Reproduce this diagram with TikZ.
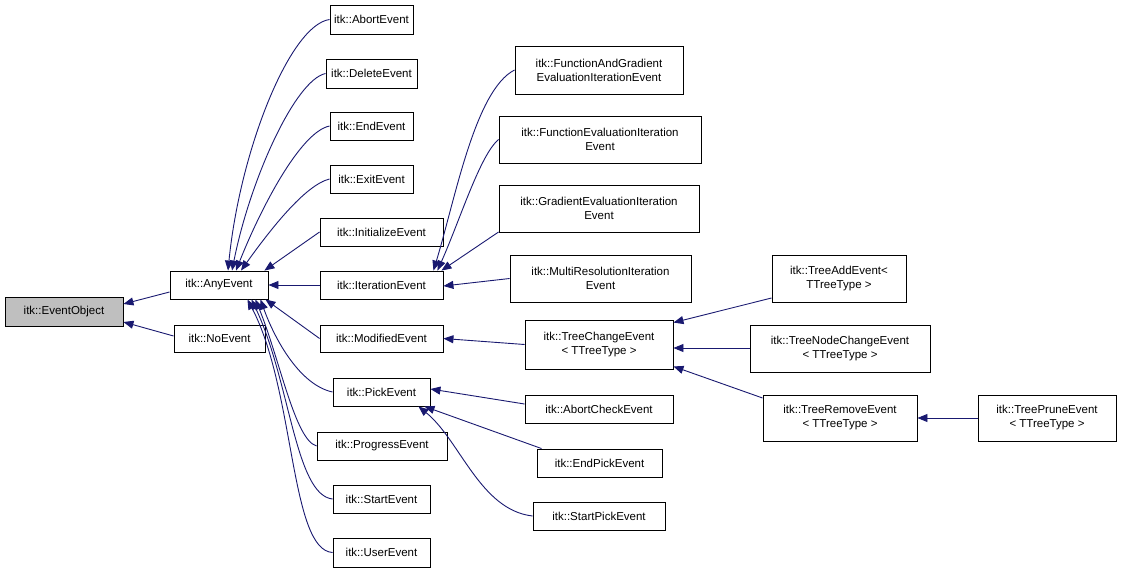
\documentclass[tikz,border=0pt]{standalone}
\usepackage{fontspec}
\setmainfont{Liberation Sans}
\usetikzlibrary{arrows.meta,calc}
\definecolor{navy}{HTML}{191970}
\tikzset{
 box/.style={draw=black,line width=0.9pt,fill=white,inner sep=1pt,align=center,font=\fontsize{11.5}{14}\selectfont},
 edge/.style={draw=navy,line width=0.9pt,-{Triangle[length=10pt,width=8pt]}},
}
\begin{document}
\begin{tikzpicture}[x=1pt,y=-1pt]
\useasboundingbox (0,0) rectangle (1123,573);
\def\N#1#2#3#4#5#6{\node[box,minimum width=#4,minimum height=#5] (#1) at (#2,#3) {#6};}
\node[box,fill=black!25,minimum width=118,minimum height=29] (EO) at (64,311.5) {itk::EventObject};
\N{AE}{219}{285}{98}{28}{itk::AnyEvent}
\N{NE}{219.5}{338.5}{91}{27}{itk::NoEvent}
\N{Ab}{371.5}{19.5}{83}{29}{itk::AbortEvent}
\N{De}{371.5}{73.5}{91}{29}{itk::DeleteEvent}
\N{En}{371.5}{126}{83}{28}{itk::EndEvent}
\N{Ex}{371.5}{179}{83}{28}{itk::ExitEvent}
\N{In}{381.5}{232}{123}{28}{itk::InitializeEvent}
\N{It}{381.5}{285}{123}{28}{itk::IterationEvent}
\N{Mo}{381.5}{338.5}{123}{27}{itk::ModifiedEvent}
\N{Pi}{381.5}{392}{97}{28}{itk::PickEvent}
\N{Pr}{382}{446}{130}{28}{itk::ProgressEvent}
\N{St}{381.5}{499}{97}{28}{itk::StartEvent}
\N{Us}{381.5}{552.5}{97}{29}{itk::UserEvent}
\N{FG}{599}{70}{168}{48}{itk::FunctionAndGradient\\EvaluationIterationEvent}
\N{FE}{600}{139.5}{202}{47}{itk::FunctionEvaluationIteration\\Event}
\N{GE}{599}{208.5}{200}{47}{itk::GradientEvaluationIteration\\Event}
\N{MR}{600.5}{278.5}{181}{47}{itk::MultiResolutionIteration\\Event}
\N{TC}{599}{344.5}{148}{49}{itk::TreeChangeEvent\\< TTreeType >}
\N{AC}{599}{409}{148}{28}{itk::AbortCheckEvent}
\N{EP}{599.5}{463}{125}{28}{itk::EndPickEvent}
\N{SP}{599}{516}{132}{28}{itk::StartPickEvent}
\N{TA}{839}{278.5}{134}{47}{itk::TreeAddEvent<\\TTreeType >}
\N{TN}{840}{348.5}{180}{47}{itk::TreeNodeChangeEvent\\< TTreeType >}
\N{TR}{840}{418}{154}{46}{itk::TreeRemoveEvent\\< TTreeType >}
\N{TP}{1047}{418}{138}{46}{itk::TreePruneEvent\\< TTreeType >}
% to EventObject
\draw[edge] (AE.west|-0,292) -- (EO.east|-0,304);
\draw[edge] (NE.west|-0,336) -- (EO.east|-0,322);
% fan to AnyEvent
\draw[edge] (Ab.west) .. controls (290,25) and (240,150) .. ([xshift=9]AE.north);
\draw[edge] (De.west) .. controls (295,80) and (250,180) .. ([xshift=13]AE.north);
\draw[edge] (En.west) .. controls (300,132) and (260,210) .. ([xshift=17]AE.north);
\draw[edge] (Ex.west) .. controls (305,185) and (270,230) .. ([xshift=22]AE.north);
\draw[edge] (In.west) -- ([xshift=-4]AE.north east);
\draw[edge] (It.west) -- (AE.east);
\draw[edge] (Mo.west) -- ([xshift=-3]AE.south east);
\draw[edge] (Pi.west) .. controls (300,385) and (275,340) .. ([xshift=-8]AE.south east);
\draw[edge] (Pr.west) .. controls (295,440) and (280,360) .. ([xshift=-13]AE.south east);
\draw[edge] (St.west) .. controls (295,495) and (290,380) .. ([xshift=-17]AE.south east);
\draw[edge] (Us.west) .. controls (290,550) and (295,390) .. ([xshift=-21]AE.south east);
% to IterationEvent
\draw[edge] (FG.west) .. controls (475,90) and (455,200) .. ([xshift=-10]It.north east);
\draw[edge] (FE.west) .. controls (480,155) and (460,220) .. ([xshift=-6]It.north east);
\draw[edge] (GE.south west|-0,232) -- ([xshift=-2]It.north east);
\draw[edge] (MR.west) -- ([yshift=-1]It.east);
% tree
\draw[edge] (TC.west) -- (Mo.east);
\draw[edge] (TA.south west|-0,298) -- ([yshift=-3]TC.north east);
\draw[edge] (TN.west|-0,348) -- (TC.east|-0,348);
\draw[edge] (TR.north west|-0,398) -- ([yshift=3]TC.south east);
\draw[edge] (TP.west) -- (TR.east);
% pick
\draw[edge] (AC.west|-0,404) -- ([yshift=3]Pi.east);
\draw[edge] ([xshift=5]EP.north west) -- ([xshift=-6]Pi.south east);
\draw[edge] (SP.west) .. controls (480,510) and (460,440) .. ([xshift=-12]Pi.south east);
\end{tikzpicture}
\end{document}
